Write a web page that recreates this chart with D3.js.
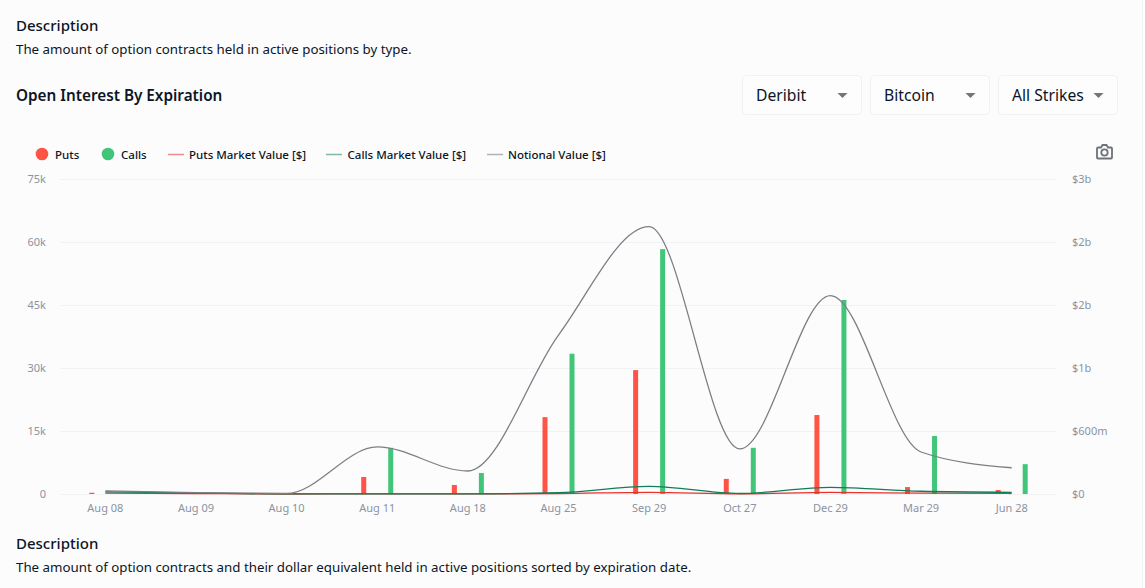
<!DOCTYPE html>
<html>
<head>
<meta charset="utf-8">
<script src="https://cdn.jsdelivr.net/npm/d3@7"></script>
<style>
    html, body { margin: 0; padding: 0; background: #fcfcfd; overflow: hidden; }
    text { font-family: "Noto Sans", Roboto, sans-serif; }
    .axis text { fill: #8b93a1; font-size: 11px; }
    .axis path, .axis line { display: none; }
</style>
</head>
<body>
<div id="chart"></div>
<script>
const dates = ["Aug 08","Aug 09","Aug 10","Aug 11","Aug 18","Aug 25","Sep 29","Oct 27","Dec 29","Mar 29","Jun 28"];
const puts = [300,0,0,4050,2150,18300,29500,3600,18800,1650,950];
const calls = [0,0,0,11000,5000,33400,58300,11000,46200,13800,7100];
const putsValue = [9000000,4000000,200000,1000000,800000,4000000,16000000,2000000,15000000,8000000,5000000];
const callsValue = [20000000,10000000,500000,1500000,1000000,12000000,73000000,5000000,64000000,26000000,16000000];
const notional = [29000000,13000000,5000000,448000000,219000000,1514000000,2546000000,429000000,1889000000,400000000,250000000];
const leftTicks = [0,15000,30000,45000,60000,75000];
const rightTicks = [0,600000000,1200000000,1800000000,2400000000,3000000000];
const dropdowns = ["Deribit","Bitcoin","All Strikes"];

const width = 1145;
const height = 588;
const margin = {top: 179, right: 88, bottom: 94, left: 60};
const red = "#ff5346";
const green = "#40c579";

const svg = d3.select("#chart").append("svg")
    .attr("width", width)
    .attr("height", height)
    .style("display", "block");

const x = d3.scaleBand().domain(dates).range([margin.left, width - margin.right]);
const side = d3.scalePoint().domain(["puts","calls"]).range([-13.5, 13.5]);
const yCount = d3.scaleLinear().domain([0, 75000]).range([height - margin.bottom, margin.top]);
const yValue = d3.scaleLinear().domain([0, 3000000000]).range([height - margin.bottom, margin.top]);
const barWidth = 5;

// page edge
svg.append("rect").attr("x", 1142).attr("y", 0).attr("width", 3).attr("height", height).attr("fill", "#ffffff");
svg.append("line").attr("x1", 1142.5).attr("x2", 1142.5).attr("y1", 0).attr("y2", height).attr("stroke", "#f1f1f3");

// page text
function label(str, px, py, size, weight, color){
    return svg.append("text").attr("x", px).attr("y", py)
        .attr("font-size", size).attr("font-weight", weight || 400)
        .attr("fill", color || "#0b1526").text(str);
}
label("Description", 16, 31, 15, 500);
label("The amount of option contracts held in active positions by type.", 16, 54, 13.3);
label("Open Interest By Expiration", 16, 101, 15.3, 600);
label("Description", 16, 549, 15, 500);
label("The amount of option contracts and their dollar equivalent held in active positions sorted by expiration date.", 16, 572, 13.3);

// dropdowns
dropdowns.forEach((name, i) => {
    const g = svg.append("g").attr("transform", "translate(" + (742.5 + i * 128) + ",75.5)");
    g.append("rect").attr("width", 119).attr("height", 39).attr("rx", 4)
        .attr("fill", "#fdfdfe").attr("stroke", "#f0f1f3");
    g.append("text").attr("x", 13.5).attr("y", 25.5).attr("font-size", 15.7).attr("fill", "#0b1526").text(name);
    g.append("path").attr("d", "M95 17.5h10l-5 5z").attr("fill", "#757575");
});

// grid
svg.append("g").selectAll("line")
    .data(leftTicks)
    .enter()
    .append("line")
    .attr("x1", margin.left)
    .attr("x2", width - margin.right)
    .attr("y1", d => Math.round(yCount(d)) + 0.5)
    .attr("y2", d => Math.round(yCount(d)) + 0.5)
    .attr("stroke", "#f1f2f3");

// axes
svg.append("g").attr("class", "axis")
    .attr("transform", "translate(" + (margin.left + 6) + ",0)")
    .call(d3.axisLeft(yCount).tickValues(leftTicks).tickSize(0).tickPadding(20)
        .tickFormat(d => d === 0 ? "0" : d / 1000 + "k"));
svg.append("g").attr("class", "axis")
    .attr("transform", "translate(" + (width - margin.right) + ",0)")
    .call(d3.axisRight(yValue).tickValues(rightTicks).tickSize(0).tickPadding(15)
        .tickFormat(d => d === 0 ? "$0" : d3.format("$.1s")(d).replace("G", "b").replace("M", "m")));
svg.append("g").attr("class", "axis")
    .attr("transform", "translate(0," + (height - margin.bottom) + ")")
    .call(d3.axisBottom(x).tickSize(0).tickPadding(10));

// bars
function drawBars(values, key, color){
    svg.append("g").selectAll("rect")
        .data(values)
        .enter()
        .append("rect")
        .attr("x", (d, i) => x(dates[i]) + x.bandwidth() / 2 + side(key) - barWidth / 2)
        .attr("y", d => yCount(d))
        .attr("width", barWidth)
        .attr("height", d => yCount(0) - yCount(d))
        .attr("fill", color);
}
drawBars(puts, "puts", red);
drawBars(calls, "calls", green);

// lines
function drawLine(values, color){
    const line = d3.line()
        .x((d, i) => x(dates[i]) + x.bandwidth() / 2)
        .y(d => yValue(d))
        .curve(d3.curveMonotoneX);
    svg.append("path").datum(values)
        .attr("d", line)
        .attr("fill", "none")
        .attr("stroke", color)
        .attr("stroke-width", 1.3);
}
drawLine(putsValue, "#e5322b");
drawLine(callsValue, "#0f7d58");
drawLine(notional, "#7b7f85");

// legend
const legendDots = [{name: "Puts", color: red, cx: 42, tx: 55}, {name: "Calls", color: green, cx: 108, tx: 121}];
const legendLines = [
    {name: "Puts Market Value [$]", color: "#e98f8a", x1: 168, tx: 189},
    {name: "Calls Market Value [$]", color: "#7fb8a3", x1: 326, tx: 347.5},
    {name: "Notional Value [$]", color: "#aeb1b6", x1: 487, tx: 508}
];
legendDots.forEach(d => {
    svg.append("circle").attr("cx", d.cx).attr("cy", 154).attr("r", 6.3).attr("fill", d.color);
    label(d.name, d.tx, 158.5, 11.5, 500);
});
legendLines.forEach(d => {
    svg.append("line").attr("x1", d.x1).attr("x2", d.x1 + 16).attr("y1", 154.5).attr("y2", 154.5)
        .attr("stroke", d.color).attr("stroke-width", 1.5);
    label(d.name, d.tx, 158.5, 11.5, 500);
});

// camera icon
const cam = svg.append("g").attr("transform", "translate(1096,144)")
    .attr("fill", "none").attr("stroke", "#6e7276").attr("stroke-width", 1.8);
cam.append("path").attr("d", "M2 3.500h3l1.500-2.500h4l1.500 2.500h3a1 1 0 0 1 1 1v9a1 1 0 0 1-1 1h-13a1 1 0 0 1-1-1v-9a1 1 0 0 1 1-1z");
cam.append("circle").attr("cx", 8.5).attr("cy", 8.5).attr("r", 3.2);
</script>
</body>
</html>
